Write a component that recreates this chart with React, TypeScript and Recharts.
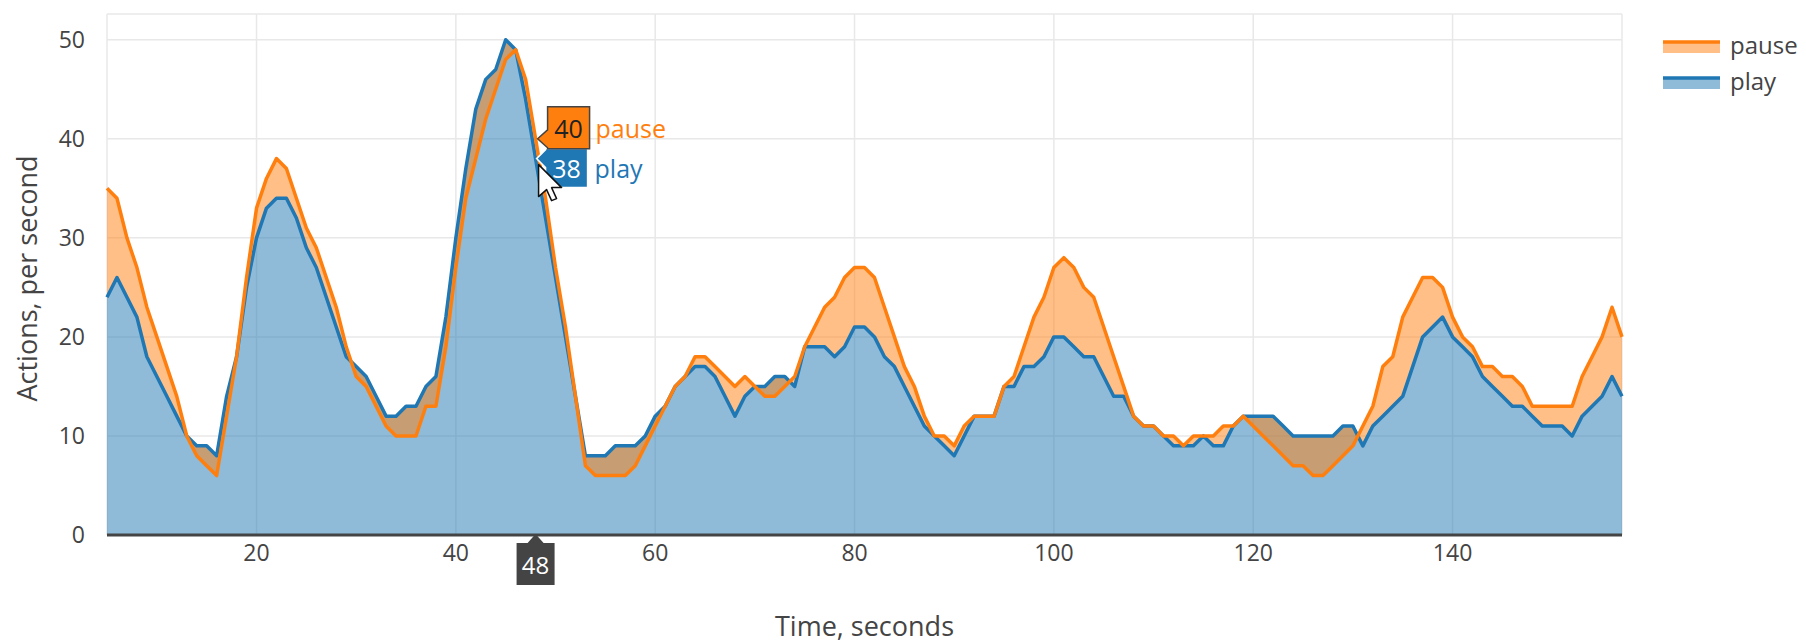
import React from 'react';
import { ComposedChart, Area, Line, XAxis, YAxis, CartesianGrid, Legend, ReferenceDot, Label } from 'recharts';

// one value per second, starting at t = 5 s
const START_SECOND = 5;

const play = [
  24, 26, 24, 22, 18, 16, 14, 12, 10, 9,
  9, 8, 14, 18, 25, 30, 33, 34, 34, 32,
  29, 27, 24, 21, 18, 17, 16, 14, 12, 12,
  13, 13, 15, 16, 22, 30, 37, 43, 46, 47,
  50, 49, 44, 38, 32, 26, 20, 14, 8, 8,
  8, 9, 9, 9, 10, 12, 13, 15, 16, 17,
  17, 16, 14, 12, 14, 15, 15, 16, 16, 15,
  19, 19, 19, 18, 19, 21, 21, 20, 18, 17,
  15, 13, 11, 10, 9, 8, 10, 12, 12, 12,
  15, 15, 17, 17, 18, 20, 20, 19, 18, 18,
  16, 14, 14, 12, 11, 11, 10, 9, 9, 9,
  10, 9, 9, 11, 12, 12, 12, 12, 11, 10,
  10, 10, 10, 10, 11, 11, 9, 11, 12, 13,
  14, 17, 20, 21, 22, 20, 19, 18, 16, 15,
  14, 13, 13, 12, 11, 11, 11, 10, 12, 13,
  14, 16, 14,
];

const pause = [
  35, 34, 30, 27, 23, 20, 17, 14, 10, 8,
  7, 6, 12, 18, 26, 33, 36, 38, 37, 34,
  31, 29, 26, 23, 19, 16, 15, 13, 11, 10,
  10, 10, 13, 13, 19, 27, 34, 38, 42, 45,
  48, 49, 46, 40, 34, 27, 21, 14, 7, 6,
  6, 6, 6, 7, 9, 11, 13, 15, 16, 18,
  18, 17, 16, 15, 16, 15, 14, 14, 15, 16,
  19, 21, 23, 24, 26, 27, 27, 26, 23, 20,
  17, 15, 12, 10, 10, 9, 11, 12, 12, 12,
  15, 16, 19, 22, 24, 27, 28, 27, 25, 24,
  21, 18, 15, 12, 11, 11, 10, 10, 9, 10,
  10, 10, 11, 11, 12, 11, 10, 9, 8, 7,
  7, 6, 6, 7, 8, 9, 11, 13, 17, 18,
  22, 24, 26, 26, 25, 22, 20, 19, 17, 17,
  16, 16, 15, 13, 13, 13, 13, 13, 16, 18,
  20, 23, 20,
];

const xTicks = [20, 40, 60, 80, 100, 120, 140];
const yTicks = [0, 10, 20, 30, 40, 50];

const hoverSecond = 48;

const BLUE = '#1f77b4';
const ORANGE = '#ff7f0e';
const TEXT = '#444';
const FONT = '"Open Sans", verdana, arial, sans-serif';

const legendItems = [
  { name: 'pause', color: ORANGE },
  { name: 'play', color: BLUE },
];

const data = play.map((v, i) => ({ t: START_SECOND + i, play: v, pause: pause[i] }));
const hoverPause = pause[hoverSecond - START_SECOND];
const hoverPlay = play[hoverSecond - START_SECOND];

function PauseHover(props: any) {
  const { cx, cy } = props;
  const left = cx + 12;
  const right = cx + 54;
  const top = cy - 32;
  const bottom = cy + 10;
  const mid = (top + bottom) / 2;
  return (
    <g>
      <path
        d={`M${cx + 2},${cy}L${left},${cy - 9}V${top}H${right}V${bottom}H${left}V${cy + 9}Z`}
        fill={ORANGE}
        stroke={TEXT}
        strokeWidth={1.5}
      />
      <text x={(left + right) / 2} y={mid} textAnchor="middle" dominantBaseline="central" fill="#222" fontSize={25} fontFamily={FONT}>
        {hoverPause}
      </text>
      <text x={right + 6} y={mid} dominantBaseline="central" fill={ORANGE} fontSize={25} fontFamily={FONT}>
        pause
      </text>
    </g>
  );
}

function PlayHover(props: any) {
  const { cx, cy } = props;
  const left = cx + 10;
  const right = cx + 52;
  const top = cy - 10;
  const bottom = cy + 29;
  const mid = (top + bottom) / 2;
  const px = cx + 3;
  const py = cy + 6;
  return (
    <g>
      <path
        d={`M${cx + 1},${cy}L${left},${cy - 9}V${top}H${right}V${bottom}H${left}V${cy + 9}Z`}
        fill={BLUE}
        stroke="#fff"
        strokeWidth={1.5}
      />
      <text x={(left + right) / 2} y={mid} textAnchor="middle" dominantBaseline="central" fill="#fff" fontSize={25} fontFamily={FONT}>
        {hoverPlay}
      </text>
      <text x={right + 7} y={mid} dominantBaseline="central" fill={BLUE} fontSize={25} fontFamily={FONT}>
        play
      </text>
      {/* mouse pointer from the screenshot */}
      <path
        d={`M${px},${py}V${py + 32}L${px + 8},${py + 25}L${px + 13},${py + 36}L${px + 18},${py + 34}L${px + 13},${py + 23}L${px + 23},${py + 23}Z`}
        fill="#fff"
        stroke="#111"
        strokeWidth={1.5}
        strokeLinejoin="round"
      />
    </g>
  );
}

function TimeHover(props: any) {
  const { cx, cy } = props;
  return (
    <g>
      <path d={`M${cx},${cy - 1}L${cx + 8},${cy + 8}H${cx + 19}V${cy + 50}H${cx - 19}V${cy + 8}H${cx - 8}Z`} fill={TEXT} />
      <text x={cx} y={cy + 29} textAnchor="middle" dominantBaseline="central" fill="#fff" fontSize={24} fontFamily={FONT}>
        {hoverSecond}
      </text>
    </g>
  );
}

function LegendBox() {
  return (
    <div style={{ fontFamily: FONT }}>
      {legendItems.map((item) => (
        <div key={item.name} style={{ display: 'flex', alignItems: 'center', height: 36 }}>
          <svg width={57} height={36}>
            <rect x={0} y={16} width={57} height={11} fill={item.color} fillOpacity={0.5} />
            <line x1={0} x2={57} y1={16} y2={16} stroke={item.color} strokeWidth={3.5} />
          </svg>
          <span style={{ marginLeft: 10, fontSize: 24, color: TEXT }}>{item.name}</span>
        </div>
      ))}
    </div>
  );
}

export default function App() {
  return (
    <div style={{ position: 'absolute', left: 0, top: 0, width: 1806, height: 642, background: '#fff' }}>
      <ComposedChart width={1806} height={642} data={data} margin={{ top: 14, right: 184, bottom: 0, left: 0 }}>
        <CartesianGrid stroke="#e8e8e8" strokeWidth={1.5} />
        <XAxis
          type="number"
          dataKey="t"
          domain={[5, 157]}
          ticks={xTicks}
          height={107}
          tickLine={false}
          tickMargin={4}
          axisLine={{ stroke: TEXT, strokeWidth: 3 }}
          tick={{ fill: TEXT, fontSize: 23, fontFamily: FONT }}
        >
          <Label
            content={(p: any) => {
              const vb = p.viewBox;
              return (
                <text x={vb.x + vb.width / 2} y={vb.y + 90} textAnchor="middle" dominantBaseline="central" fill={TEXT} fontSize={27} fontFamily={FONT}>
                  Time, seconds
                </text>
              );
            }}
          />
        </XAxis>
        <YAxis
          type="number"
          domain={[0, 52.6]}
          ticks={yTicks}
          width={107}
          tickLine={false}
          axisLine={false}
          tickMargin={16}
          tick={{ fill: TEXT, fontSize: 23, fontFamily: FONT }}
        >
          <Label
            content={(p: any) => {
              const vb = p.viewBox;
              const x = vb.x + 26;
              const y = vb.y + vb.height / 2 + 4;
              return (
                <text x={x} y={y} transform={`rotate(-90, ${x}, ${y})`} textAnchor="middle" dominantBaseline="central" fill={TEXT} fontSize={27} fontFamily={FONT}>
                  Actions, per second
                </text>
              );
            }}
          />
        </YAxis>
        <Legend layout="vertical" align="center" verticalAlign="middle" wrapperStyle={{ top: 26, left: 1663, width: 143 }} content={() => <LegendBox />} />
        <Area type="linear" dataKey="play" stroke="none" fill={BLUE} fillOpacity={0.5} isAnimationActive={false} activeDot={false} legendType="none" />
        <Area
          type="linear"
          dataKey={(d: any) => [d.play, d.pause]}
          stroke="none"
          fill={ORANGE}
          fillOpacity={0.5}
          isAnimationActive={false}
          activeDot={false}
          legendType="none"
        />
        <Line type="linear" dataKey="play" stroke={BLUE} strokeWidth={3.5} dot={false} activeDot={false} isAnimationActive={false} strokeLinejoin="round" />
        <Line type="linear" dataKey="pause" stroke={ORANGE} strokeWidth={3.5} dot={false} activeDot={false} isAnimationActive={false} strokeLinejoin="round" />
        <ReferenceDot x={hoverSecond} y={hoverPlay} r={0} shape={PlayHover} />
        <ReferenceDot x={hoverSecond} y={hoverPause} r={0} shape={PauseHover} />
        <ReferenceDot x={hoverSecond} y={0} r={0} shape={TimeHover} />
      </ComposedChart>
    </div>
  );
}
